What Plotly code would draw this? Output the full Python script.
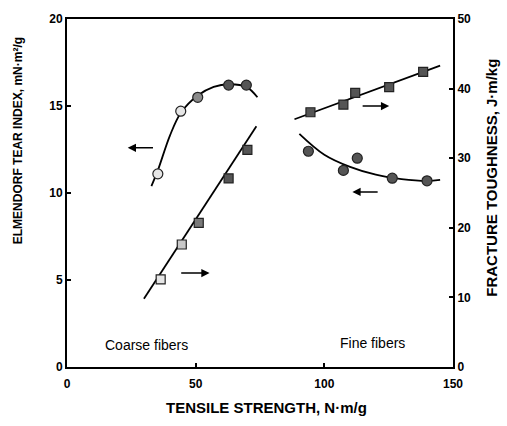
import plotly.graph_objects as go

# Coarse fibers: tear index (left axis) and fracture toughness (right axis)
coarse_tear_x = [35.3, 44.2, 50.8, 62.8, 69.7]
coarse_tear_y = [11.1, 14.7, 15.5, 16.2, 16.2]
coarse_tear_fill = ["#e6e6e6", "#e6e6e6", "#8a8a8a", "#555555", "#555555"]
coarse_tear_curve_x = [32.8, 35.3, 40.0, 44.2, 50.8, 57.0, 63.0, 69.7, 74.0]
coarse_tear_curve_y = [10.4, 11.3, 13.3, 14.6, 15.6, 16.1, 16.25, 16.1, 15.5]

coarse_tough_x = [36.4, 44.6, 51.2, 62.8, 70.1]
coarse_tough_y = [12.6, 17.6, 20.7, 27.1, 31.2]
coarse_tough_fill = ["#e6e6e6", "#c8c8c8", "#7a7a7a", "#555555", "#555555"]
coarse_tough_line_x = [29.9, 73.6]
coarse_tough_line_y = [9.8, 34.6]

# Fine fibers
fine_tough_x = [94.6, 107.4, 112.0, 125.2, 138.4]
fine_tough_y = [36.6, 37.7, 39.4, 40.2, 42.4]
fine_tough_line_x = [88.4, 145.0]
fine_tough_line_y = [35.6, 43.3]

fine_tear_x = [93.8, 107.4, 112.8, 126.4, 139.9]
fine_tear_y = [12.4, 11.3, 12.0, 10.85, 10.7]
fine_tear_curve_x = [90.3, 100.0, 110.0, 120.0, 130.0, 140.0, 145.0]
fine_tear_curve_y = [13.4, 12.2, 11.5, 11.05, 10.8, 10.7, 10.75]

x_ticks = [0, 50, 100, 150]
left_ticks = [0, 5, 10, 15, 20]
right_ticks = [0, 10, 20, 30, 40, 50]

FONT = "Liberation Sans, Arial, sans-serif"

fig = go.Figure()

line_style = dict(color="black", width=1.8)

fig.add_trace(go.Scatter(x=coarse_tear_curve_x, y=coarse_tear_curve_y, mode="lines",
                         line=dict(shape="spline", **line_style), yaxis="y", hoverinfo="skip"))
fig.add_trace(go.Scatter(x=coarse_tough_line_x, y=coarse_tough_line_y, mode="lines",
                         line=line_style, yaxis="y2", hoverinfo="skip"))
fig.add_trace(go.Scatter(x=fine_tough_line_x, y=fine_tough_line_y, mode="lines",
                         line=line_style, yaxis="y2", hoverinfo="skip"))
fig.add_trace(go.Scatter(x=fine_tear_curve_x, y=fine_tear_curve_y, mode="lines",
                         line=dict(shape="spline", **line_style), yaxis="y", hoverinfo="skip"))

fig.add_trace(go.Scatter(x=coarse_tear_x, y=coarse_tear_y, mode="markers", yaxis="y",
                         marker=dict(symbol="circle", size=10, color=coarse_tear_fill,
                                     line=dict(color="#222222", width=1.2))))
fig.add_trace(go.Scatter(x=coarse_tough_x, y=coarse_tough_y, mode="markers", yaxis="y2",
                         marker=dict(symbol="square", size=9, color=coarse_tough_fill,
                                     line=dict(color="#222222", width=1.2))))
fig.add_trace(go.Scatter(x=fine_tough_x, y=fine_tough_y, mode="markers", yaxis="y2",
                         marker=dict(symbol="square", size=9, color="#555555",
                                     line=dict(color="#222222", width=1.2))))
fig.add_trace(go.Scatter(x=fine_tear_x, y=fine_tear_y, mode="markers", yaxis="y",
                         marker=dict(symbol="circle", size=10, color="#555555",
                                     line=dict(color="#222222", width=1.2))))

axis_common = dict(showline=True, linecolor="black", linewidth=2, ticks="inside",
                   ticklen=4, tickcolor="black", tickwidth=1.5, showgrid=False,
                   zeroline=False, tickfont=dict(family=FONT, size=12, color="black",
                                                 weight="bold"))

fig.update_layout(
    width=507, height=426,
    margin=dict(l=67, r=54, t=14, b=59),
    paper_bgcolor="white", plot_bgcolor="white",
    showlegend=False,
    xaxis=dict(range=[0, 150], tickvals=x_ticks, mirror=True, ticklabelstandoff=5,
               **axis_common),
    yaxis=dict(range=[0, 20], tickvals=left_ticks, **axis_common),
    yaxis2=dict(range=[0, 50], tickvals=right_ticks, overlaying="y", side="right",
                **axis_common),
)

arrows = [
    # (tail x, head x, y on left axis)
    (34.0, 23.6, 12.6),
    (43.8, 55.4, 5.4),
    (114.3, 125.2, 15.0),
    (121.3, 110.9, 10.06),
]
for tail, head, yv in arrows:
    fig.add_annotation(x=head, y=yv, ax=tail, ay=yv, xref="x", yref="y",
                       axref="x", ayref="y", text="", showarrow=True,
                       arrowhead=2, arrowsize=1.1, arrowwidth=1.5, arrowcolor="black")

fig.add_annotation(x=31, y=1.25, xref="x", yref="y", text="Coarse fibers",
                   showarrow=False, font=dict(family=FONT, size=14, color="black"))
fig.add_annotation(x=118.6, y=1.4, xref="x", yref="y", text="Fine fibers",
                   showarrow=False, font=dict(family=FONT, size=14, color="black"))

# axis titles positioned in pixel terms, converted to paper coordinates
plot_w, plot_h = 507 - 67 - 54, 426 - 14 - 59
def px_to_paper(px, py):
    return (px - 67) / plot_w, (426 - 59 - py) / plot_h

lx, ly = px_to_paper(18, 138)
fig.add_annotation(x=lx, y=ly, xref="paper", yref="paper", text="ELMENDORF TEAR INDEX, mN·m²/g",
                   showarrow=False, textangle=-90, xanchor="center", yanchor="middle",
                   font=dict(family=FONT, size=12, color="black", weight="bold"))
rx, ry = px_to_paper(492, 175)
fig.add_annotation(x=rx, y=ry, xref="paper", yref="paper", text="FRACTURE TOUGHNESS, J·m/kg",
                   showarrow=False, textangle=-90, xanchor="center", yanchor="middle",
                   font=dict(family=FONT, size=15, color="black", weight="bold"))
bx, by = px_to_paper(266, 408)
fig.add_annotation(x=bx, y=by, xref="paper", yref="paper", text="TENSILE STRENGTH, N·m/g",
                   showarrow=False, xanchor="center", yanchor="middle",
                   font=dict(family=FONT, size=15, color="black", weight="bold"))

fig.write_html("out.html")
